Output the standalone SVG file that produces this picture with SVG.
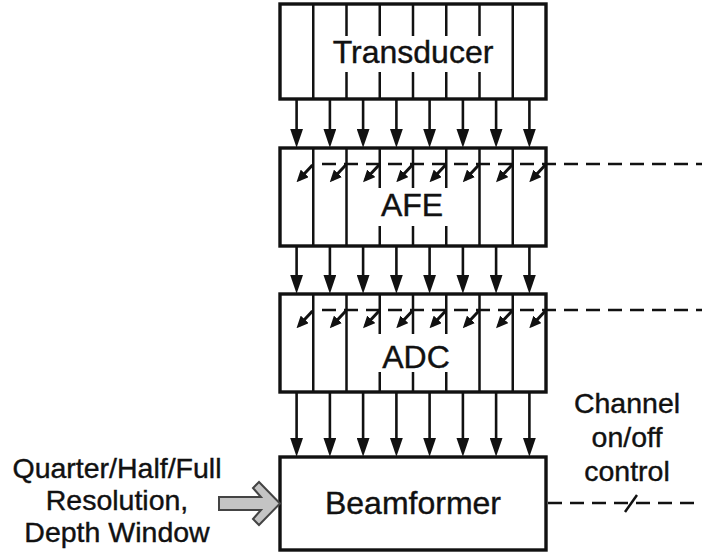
<svg xmlns="http://www.w3.org/2000/svg" width="702" height="556" viewBox="0 0 702 556">
<style>
.box{fill:#fff;stroke:#111;stroke-width:3.4}
.div{stroke:#111;stroke-width:2.5;fill:none}
.arr{stroke:#111;stroke-width:2.6;fill:none;marker-end:url(#ah)}
.var{stroke:#111;stroke-width:3;fill:none;marker-end:url(#sh)}
.dash{stroke:#111;stroke-width:2.6;fill:none;stroke-dasharray:14 8}
.lbl{font-family:"Liberation Sans",Arial,sans-serif;font-size:32px;fill:#111;stroke:#111;stroke-width:0.4;text-anchor:middle}
.side{font-family:"Liberation Sans",Arial,sans-serif;font-size:28.5px;fill:#111;stroke:#111;stroke-width:0.4;text-anchor:middle}
</style>
<defs>
<marker id="ah" viewBox="0 0 10 10" refX="7" refY="5" markerWidth="19" markerHeight="13" markerUnits="userSpaceOnUse" orient="auto" preserveAspectRatio="none">
<path d="M0,0 L10,5 L0,10 z" fill="#111"/>
</marker>
<marker id="sh" viewBox="0 0 10 10" refX="7" refY="5" markerWidth="12" markerHeight="11" markerUnits="userSpaceOnUse" orient="auto" preserveAspectRatio="none">
<path d="M0,0 L10,5 L0,10 z" fill="#111"/>
</marker>
</defs>

<g id="transducer">
<rect class="box" x="280" y="4" width="266" height="95"/>
<path class="div" d="M313.25,4V99 M512.75,4V99 M346.5,4V36 M346.5,72V99 M379.75,4V36 M379.75,72V99 M413,4V36 M413,72V99 M446.25,4V36 M446.25,72V99 M479.5,4V36 M479.5,72V99"/>
<text class="lbl" x="413" y="63">Transducer</text>
</g>

<g id="afe">
<rect class="box" x="280" y="148" width="266" height="98"/>
<path class="div" d="M313.25,148V246 M346.5,148V246 M479.5,148V246 M512.75,148V246 M379.75,148V188 M379.75,226V246 M413,148V188 M413,226V246 M446.25,148V188 M446.25,226V246"/>
<text class="lbl" x="412" y="216">AFE</text>
<line class="var" x1="312.5" y1="165" x2="299" y2="179.5"/>
<line class="var" x1="345.75" y1="165" x2="332.25" y2="179.5"/>
<line class="var" x1="379" y1="165" x2="365.5" y2="179.5"/>
<line class="var" x1="412.25" y1="165" x2="398.75" y2="179.5"/>
<line class="var" x1="445.5" y1="165" x2="432" y2="179.5"/>
<line class="var" x1="478.75" y1="165" x2="465.25" y2="179.5"/>
<line class="var" x1="512" y1="165" x2="498.5" y2="179.5"/>
<line class="var" x1="545.25" y1="165" x2="531.75" y2="179.5"/>
</g>

<g id="adc">
<rect class="box" x="280" y="294" width="266" height="98"/>
<path class="div" d="M313.25,294V392 M346.5,294V392 M479.5,294V392 M512.75,294V392 M379.75,294V334 M379.75,372V392 M413,294V334 M413,372V392 M446.25,294V334 M446.25,372V392"/>
<text class="lbl" x="416" y="368">ADC</text>
<line class="var" x1="312.5" y1="311" x2="299" y2="325.5"/>
<line class="var" x1="345.75" y1="311" x2="332.25" y2="325.5"/>
<line class="var" x1="379" y1="311" x2="365.5" y2="325.5"/>
<line class="var" x1="412.25" y1="311" x2="398.75" y2="325.5"/>
<line class="var" x1="445.5" y1="311" x2="432" y2="325.5"/>
<line class="var" x1="478.75" y1="311" x2="465.25" y2="325.5"/>
<line class="var" x1="512" y1="311" x2="498.5" y2="325.5"/>
<line class="var" x1="545.25" y1="311" x2="531.75" y2="325.5"/>
</g>

<g id="beamformer">
<rect class="box" x="280" y="457" width="266" height="93"/>
<text class="lbl" x="413" y="514">Beamformer</text>
</g>

<g id="resolution-input">
<text class="side" x="117" y="478">Quarter/Half/Full</text>
<text class="side" x="117" y="510">Resolution,</text>
<text class="side" x="117" y="542">Depth Window</text>
<path d="M219,497 H261 L253,488 L259,482 L280,503.5 L259,525 L253,519 L261,510 H219 Z" fill="#c4c4c4" stroke="#444" stroke-width="2"/>
</g>

<g id="channel-control">
<text class="side" x="627" y="413">Channel</text>
<text class="side" x="627" y="447">on/off</text>
<text class="side" x="627" y="481">control</text>
</g>

<g id="connectors">
<line class="arr" x1="296.6" y1="99" x2="296.6" y2="142"/>
<line class="arr" x1="329.9" y1="99" x2="329.9" y2="142"/>
<line class="arr" x1="363.1" y1="99" x2="363.1" y2="142"/>
<line class="arr" x1="396.4" y1="99" x2="396.4" y2="142"/>
<line class="arr" x1="429.6" y1="99" x2="429.6" y2="142"/>
<line class="arr" x1="462.9" y1="99" x2="462.9" y2="142"/>
<line class="arr" x1="496.1" y1="99" x2="496.1" y2="142"/>
<line class="arr" x1="529.4" y1="99" x2="529.4" y2="142"/>
<line class="arr" x1="296.6" y1="246" x2="296.6" y2="288"/>
<line class="arr" x1="329.9" y1="246" x2="329.9" y2="288"/>
<line class="arr" x1="363.1" y1="246" x2="363.1" y2="288"/>
<line class="arr" x1="396.4" y1="246" x2="396.4" y2="288"/>
<line class="arr" x1="429.6" y1="246" x2="429.6" y2="288"/>
<line class="arr" x1="462.9" y1="246" x2="462.9" y2="288"/>
<line class="arr" x1="496.1" y1="246" x2="496.1" y2="288"/>
<line class="arr" x1="529.4" y1="246" x2="529.4" y2="288"/>
<line class="arr" x1="296.6" y1="392" x2="296.6" y2="451"/>
<line class="arr" x1="329.9" y1="392" x2="329.9" y2="451"/>
<line class="arr" x1="363.1" y1="392" x2="363.1" y2="451"/>
<line class="arr" x1="396.4" y1="392" x2="396.4" y2="451"/>
<line class="arr" x1="429.6" y1="392" x2="429.6" y2="451"/>
<line class="arr" x1="462.9" y1="392" x2="462.9" y2="451"/>
<line class="arr" x1="496.1" y1="392" x2="496.1" y2="451"/>
<line class="arr" x1="529.4" y1="392" x2="529.4" y2="451"/>
<line class="dash" x1="322" y1="164" x2="702" y2="164"/>
<line class="dash" x1="322" y1="310" x2="702" y2="310"/>
<line class="dash" x1="548" y1="503" x2="702" y2="503"/>
<line class="div" x1="625" y1="512" x2="637" y2="495"/>
</g>
</svg>
